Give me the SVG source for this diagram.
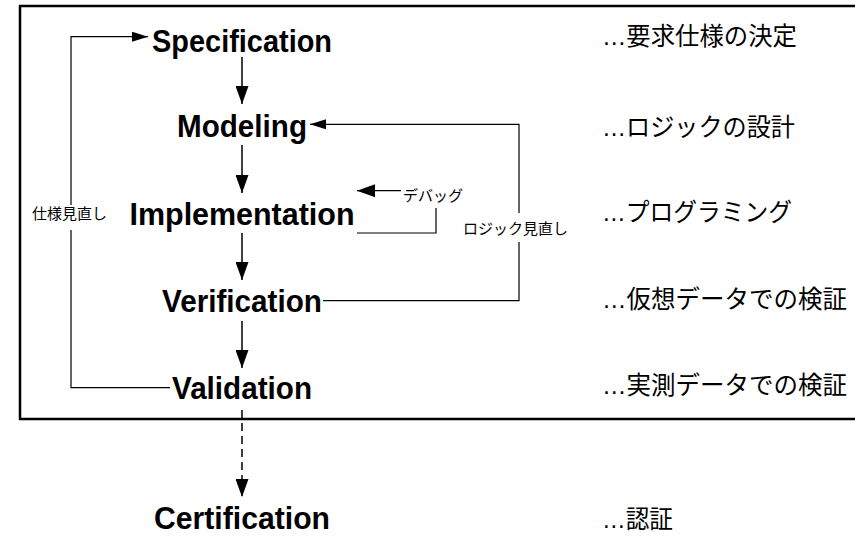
<svg xmlns="http://www.w3.org/2000/svg" width="855" height="537" viewBox="0 0 855 537">
<style>
.bg{fill:#fff}
.frame{fill:none;stroke:#000;stroke-width:2.5}
.step{font-family:"Liberation Sans",Arial,sans-serif;font-weight:bold;font-size:31px;fill:#000;text-anchor:middle}
.desc{font-family:"Liberation Sans","Noto Sans CJK JP",sans-serif;font-size:25px;fill:#000}
.lbl{font-family:"Noto Sans CJK JP",sans-serif;font-size:15px;fill:#000}
.flow{fill:none;stroke:#000;stroke-width:1.5}
.loop{fill:none;stroke:#000;stroke-width:1.2}
.dash{stroke-dasharray:8 5}
</style>
<defs>
<marker id="ah" markerUnits="userSpaceOnUse" viewBox="0 0 18 13" markerWidth="18" markerHeight="13" refX="18" refY="6.5" orient="auto"><path d="M0,0 L18,6.5 L0,13 Z" fill="#000"/></marker>
<marker id="ahs" markerUnits="userSpaceOnUse" viewBox="0 0 16 10" markerWidth="16" markerHeight="10" refX="16" refY="5" orient="auto"><path d="M0,0 L16,5 L0,10 Z" fill="#000"/></marker>
</defs>
<rect class="bg" x="0" y="0" width="855" height="537"/>
<path id="frame" class="frame" d="M860,6 H20 V419 H860"/>

<g id="connectors">
<path class="flow" d="M242,57 V104" marker-end="url(#ah)"/>
<path class="flow" d="M242,145 V193" marker-end="url(#ah)"/>
<path class="flow" d="M242,233 V280" marker-end="url(#ah)"/>
<path class="flow" d="M242,321 V368" marker-end="url(#ah)"/>
<path class="flow dash" d="M242,410 V497" marker-end="url(#ah)"/>
<path class="loop" d="M71,205 V36.7 H148" marker-end="url(#ahs)"/>
<path class="loop" d="M71,230 V387.7 H170"/>
<path class="loop" d="M519,213 V124.3 H310" marker-end="url(#ahs)"/>
<path class="loop" d="M519,242 V300.7 H323"/>
<path class="loop" d="M357,233 H436 V208"/>
<path class="loop" d="M401,190.7 H357" marker-end="url(#ah)"/>
</g>

<g id="lbl-spec-review"><text class="lbl" x="32" y="219">仕様見直し</text></g>
<g id="lbl-logic-review"><text class="lbl" x="463" y="234">ロジック見直し</text></g>
<g id="lbl-debug"><text class="lbl" x="403" y="201">デバッグ</text></g>

<g id="specification"><text class="step" x="242" y="52" textLength="180" lengthAdjust="spacingAndGlyphs">Specification</text></g>
<g id="modeling"><text class="step" x="242" y="137" textLength="130" lengthAdjust="spacingAndGlyphs">Modeling</text></g>
<g id="implementation"><text class="step" x="242" y="225" textLength="225" lengthAdjust="spacingAndGlyphs">Implementation</text></g>
<g id="verification"><text class="step" x="242" y="312" textLength="160" lengthAdjust="spacingAndGlyphs">Verification</text></g>
<g id="validation"><text class="step" x="242" y="399" textLength="140" lengthAdjust="spacingAndGlyphs">Validation</text></g>
<g id="certification"><text class="step" x="242" y="529" textLength="176" lengthAdjust="spacingAndGlyphs">Certification</text></g>

<g id="desc-spec"><text class="desc" x="602" y="45" textLength="195" lengthAdjust="spacingAndGlyphs">…要求仕様の決定</text></g>
<g id="desc-model"><text class="desc" x="602" y="136" textLength="193" lengthAdjust="spacingAndGlyphs">…ロジックの設計</text></g>
<g id="desc-impl"><text class="desc" x="602" y="221" textLength="190" lengthAdjust="spacingAndGlyphs">…プログラミング</text></g>
<g id="desc-verif"><text class="desc" x="602" y="308" textLength="245" lengthAdjust="spacingAndGlyphs">…仮想データでの検証</text></g>
<g id="desc-valid"><text class="desc" x="602" y="394" textLength="245" lengthAdjust="spacingAndGlyphs">…実測データでの検証</text></g>
<g id="desc-cert"><text class="desc" x="602" y="528" textLength="71" lengthAdjust="spacingAndGlyphs">…認証</text></g>
</svg>
